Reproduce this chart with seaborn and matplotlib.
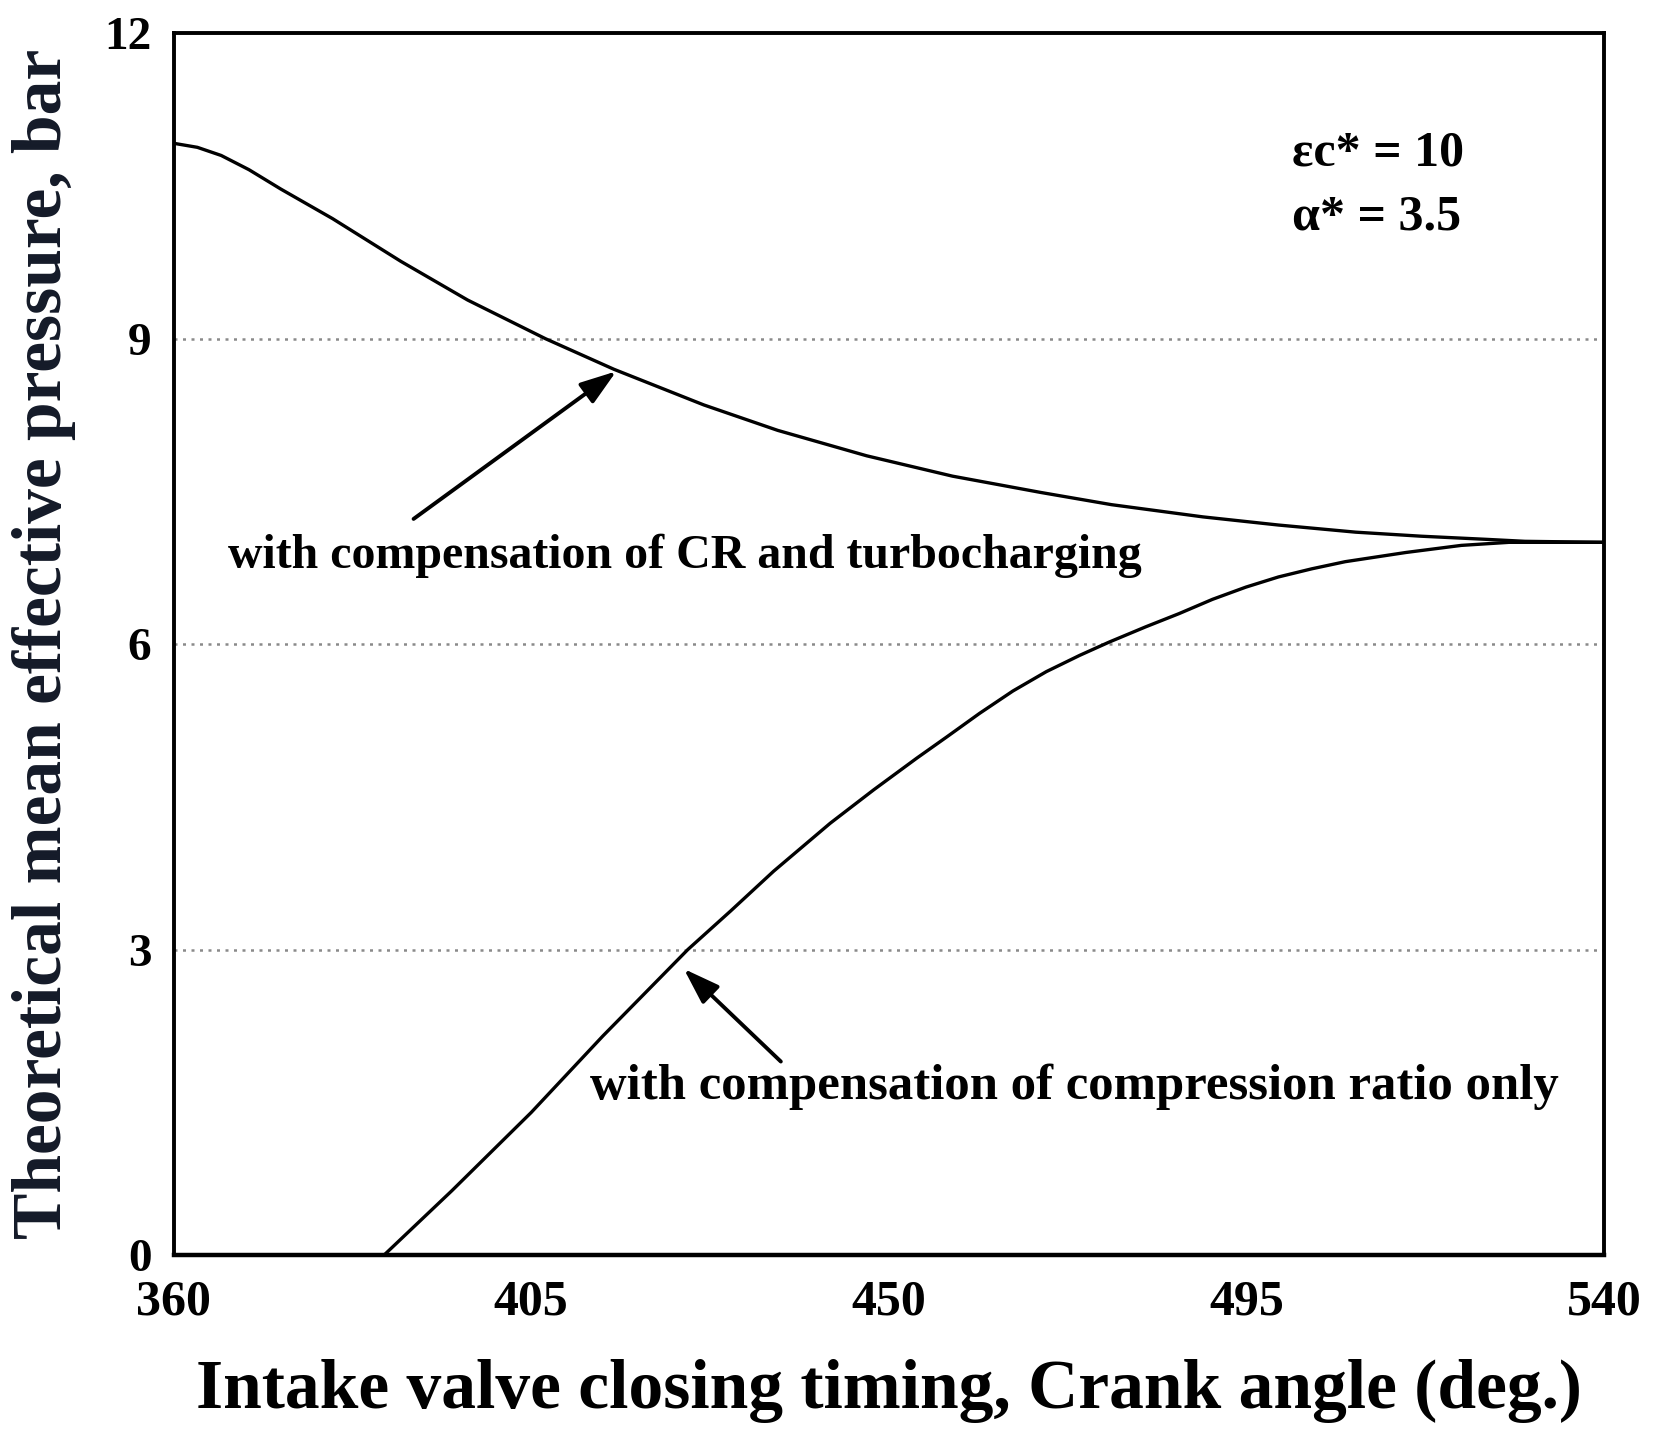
import numpy as np
import pandas as pd
import matplotlib
matplotlib.use("Agg")
import matplotlib.pyplot as plt
import seaborn as sns

# ---- data ----
angle_turbo = [360, 363, 366, 369.5, 373.5, 380, 388.6, 397, 406.8, 415.4, 426.7,
               436, 447.2, 458, 469.1, 478, 489.5, 499, 508.7, 517, 525, 530, 540]
mep_turbo = [10.92, 10.88, 10.80, 10.66, 10.47, 10.18, 9.76, 9.38, 9.00, 8.70, 8.35,
             8.10, 7.85, 7.65, 7.49, 7.37, 7.25, 7.17, 7.10, 7.06, 7.03, 7.01, 7.00]
angle_cr = [386.5, 395, 405, 414, 424.7, 430.1, 435.5, 442.6, 448.1, 453.5, 457.3,
            461.4, 465.6, 469.8, 474.0, 477.7, 482.3, 486.5, 490.7, 494.9, 499.0,
            503.2, 507.4, 515, 522, 528, 540]
mep_cr = [0.0, 0.63, 1.40, 2.15, 3.00, 3.38, 3.77, 4.24, 4.57, 4.88, 5.09,
          5.32, 5.54, 5.73, 5.89, 6.02, 6.17, 6.30, 6.44, 6.56, 6.66,
          6.74, 6.81, 6.90, 6.97, 7.00, 7.00]
xticks = [360, 405, 450, 495, 540]
yticks = [0, 3, 6, 9, 12]
label_turbo = "with compensation of CR and turbocharging"
label_cr = "with compensation of compression ratio only"

df = pd.concat([
    pd.DataFrame({"angle": angle_turbo, "mep": mep_turbo, "case": label_turbo}),
    pd.DataFrame({"angle": angle_cr, "mep": mep_cr, "case": label_cr}),
])

sns.set_theme(style="white")
plt.rcParams["font.family"] = ["Liberation Serif", "DejaVu Serif"]
plt.rcParams["font.weight"] = "bold"
plt.rcParams["text.color"] = "black"
plt.rcParams["xtick.color"] = "black"
plt.rcParams["ytick.color"] = "black"
plt.rcParams["axes.labelcolor"] = "black"

fig = plt.figure(figsize=(16.7, 14.42), dpi=100)
ax = fig.add_axes([0.1039, 0.1297, 0.8568, 0.8472])

for yv in [3, 6, 9]:
    ax.axhline(yv, color="#8a8a8a", lw=1.8, ls=(0, (1.2, 2.2)), zorder=1)

sns.lineplot(data=df, x="angle", y="mep", hue="case", units="case", estimator=None,
             sort=False, palette=["black", "black"], linewidth=2.4, legend=False,
             ax=ax, zorder=3)

ax.set_xlim(360, 540)
ax.set_ylim(0, 12)
ax.set_xticks(xticks)
ax.set_yticks(yticks)
ax.set_xticklabels([str(v) for v in xticks], fontsize=36, fontweight="bold")
ax.set_yticklabels([str(v) for v in yticks], fontsize=34, fontweight="bold")
ax.tick_params(axis="x", direction="in", length=12, width=1.5, pad=18, color="black")
ax.tick_params(axis="y", length=0, pad=16)
for s in ax.spines.values():
    s.set_color("black")
    s.set_linewidth(2.8)
ax.spines["bottom"].set_linewidth(3.2)

ax.set_xlabel("Intake valve closing timing, Crank angle (deg.)", fontsize=50,
              fontweight="bold", labelpad=24)
ax.set_ylabel("Theoretical mean effective pressure, bar", fontsize=50,
              fontweight="bold", color="#141a28", labelpad=20)

# annotations
arrow_kw = dict(arrowstyle="-|>,head_length=0.65,head_width=0.22",
                color="black", lw=2.8, shrinkA=0, shrinkB=0, mutation_scale=34)
ax.annotate("", xy=(415.7, 8.68), xytext=(390.2, 7.23), arrowprops=arrow_kw)
ax.annotate("", xy=(424.2, 2.81), xytext=(436.4, 1.90), arrowprops=arrow_kw)
ax.text(366.8, 6.87, label_turbo, fontsize=34.5, fontweight="bold", va="center", ha="left")
ax.text(412.4, 1.65, label_cr, fontsize=36.5, fontweight="bold", va="center", ha="left")

ax.text(500.7, 10.82, "εc* = 10", fontsize=36, fontweight="bold", va="center", ha="left")
ax.text(500.7, 10.19, "α* = 3.5", fontsize=36, fontweight="bold", va="center", ha="left")

fig.savefig("out.png", dpi=100)
